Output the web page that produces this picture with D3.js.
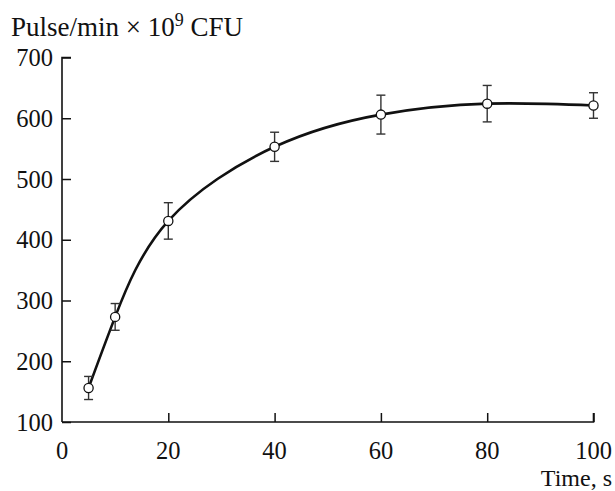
<!DOCTYPE html>
<html>
<head>
<meta charset="utf-8">
<script src="https://cdn.jsdelivr.net/npm/d3@7"></script>
<style>
  body { margin: 0; background: #fff; }
</style>
</head>
<body>
<svg width="615" height="491" font-family="'Liberation Serif', 'Times New Roman', Times, serif"></svg>
<script>
const svg = d3.select("svg");

// data
const times = [5, 10, 20, 40, 60, 80, 100];
const pulse = [156, 273, 431, 553, 606, 624, 621];
const errors = [19, 22, 30, 24, 32, 30, 21];
const xTicks = [0, 20, 40, 60, 80, 100];
const yTicks = [100, 200, 300, 400, 500, 600, 700];

const data = times.map((t, i) => ({ t: t, v: pulse[i], e: errors[i] }));

const xScale = d3.scaleLinear().domain([0, 100]).range([62, 593.5]);
const yScale = d3.scaleLinear().domain([100, 700]).range([422, 57.5]);

const ink = "#111";

// axes
const xAxisG = svg.append("g")
  .attr("transform", `translate(0, ${yScale(100)})`)
  .call(d3.axisTop(xScale).tickValues(xTicks.slice(1)).tickSize(9).tickFormat(""));
const yAxisG = svg.append("g")
  .attr("transform", `translate(${xScale(0)}, 0)`)
  .call(d3.axisRight(yScale).tickValues(yTicks).tickSize(9).tickFormat(""));

[xAxisG, yAxisG].forEach((g) => {
  g.select(".domain").attr("stroke", ink).attr("stroke-width", 1.6);
  g.selectAll(".tick line").attr("stroke", ink).attr("stroke-width", 1.5);
});
// plain corner, no outer ticks
xAxisG.select(".domain").attr("d", `M${xScale(0)},0H${xScale(100)}V-9`);
yAxisG.select(".domain").attr("d", `M9,${yScale(700)}H0V${yScale(100)}`);

// tick labels
svg.append("g").selectAll("text")
  .data(yTicks)
  .enter()
  .append("text")
  .attr("x", 53)
  .attr("y", (d) => yScale(d))
  .attr("dy", "0.35em")
  .attr("text-anchor", "end")
  .attr("fill", ink)
  .style("font-size", "24.5px")
  .text((d) => d);

svg.append("g").selectAll("text")
  .data(xTicks)
  .enter()
  .append("text")
  .attr("x", (d) => xScale(d))
  .attr("y", 459)
  .attr("text-anchor", "middle")
  .attr("fill", ink)
  .style("font-size", "24.5px")
  .text((d) => d);

// axis titles
const title = svg.append("text")
  .attr("x", 11)
  .attr("y", 36)
  .attr("fill", ink)
  .style("font-size", "27px");
title.append("tspan").text("Pulse/min \u00d7 10");
title.append("tspan").attr("dy", -10).style("font-size", "18px").text("9");
title.append("tspan").attr("dy", 10).text(" CFU");

svg.append("text")
  .attr("x", 612)
  .attr("y", 485.5)
  .attr("text-anchor", "end")
  .attr("fill", ink)
  .style("font-size", "24px")
  .text("Time, s");

// smooth curve through the points
svg.append("path")
  .datum(data)
  .attr("fill", "none")
  .attr("stroke", ink)
  .attr("stroke-width", 2.6)
  .attr("d", d3.line()
    .x((d) => xScale(d.t))
    .y((d) => yScale(d.v))
    .curve(d3.curveNatural));

// error bars
const bars = svg.append("g").selectAll("g")
  .data(data)
  .enter()
  .append("g")
  .attr("stroke", "#333")
  .attr("stroke-width", 1.4);

bars.append("line")
  .attr("x1", (d) => xScale(d.t))
  .attr("x2", (d) => xScale(d.t))
  .attr("y1", (d) => yScale(d.v + d.e))
  .attr("y2", (d) => yScale(d.v - d.e));
bars.append("line")
  .attr("x1", (d) => xScale(d.t) - 4.5)
  .attr("x2", (d) => xScale(d.t) + 4.5)
  .attr("y1", (d) => yScale(d.v + d.e))
  .attr("y2", (d) => yScale(d.v + d.e));
bars.append("line")
  .attr("x1", (d) => xScale(d.t) - 4.5)
  .attr("x2", (d) => xScale(d.t) + 4.5)
  .attr("y1", (d) => yScale(d.v - d.e))
  .attr("y2", (d) => yScale(d.v - d.e));

// open circles
svg.append("g").selectAll("circle")
  .data(data)
  .enter()
  .append("circle")
  .attr("cx", (d) => xScale(d.t))
  .attr("cy", (d) => yScale(d.v))
  .attr("r", 4.6)
  .attr("fill", "#fff")
  .attr("stroke", ink)
  .attr("stroke-width", 1.3);
</script>
</body>
</html>
